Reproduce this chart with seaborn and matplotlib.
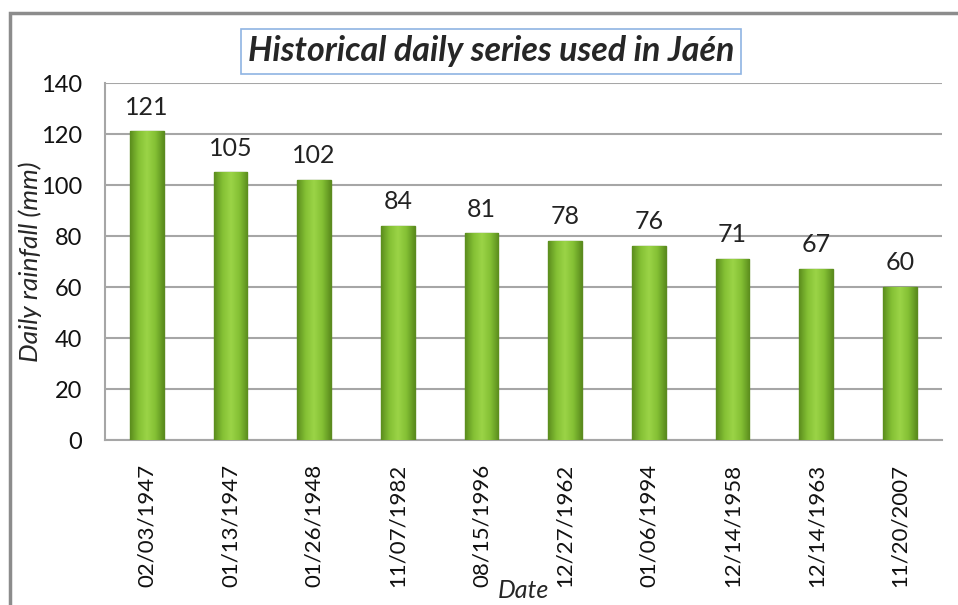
import numpy as np
import pandas as pd
import matplotlib
matplotlib.use("Agg")
import matplotlib.pyplot as plt
from matplotlib.colors import LinearSegmentedColormap
from matplotlib.patches import Rectangle
import seaborn as sns

# data
dates = ["02/03/1947", "01/13/1947", "01/26/1948", "11/07/1982", "08/15/1996",
         "12/27/1962", "01/06/1994", "12/14/1958", "12/14/1963", "11/20/2007"]
rainfall = [121, 105, 102, 84, 81, 78, 76, 71, 67, 60]
yticks = [0, 20, 40, 60, 80, 100, 120, 140]

df = pd.DataFrame({"date": dates, "rain": rainfall})

sns.set_style("white")
plt.rcParams["font.family"] = ["Lato", "DejaVu Sans"]

fig = plt.figure(figsize=(9.58, 6.05), dpi=100)
ax = fig.add_axes([0.1096, 0.2727, 0.8734, 0.5901])

sns.barplot(data=df, x="date", y="rain", ax=ax, width=0.4,
            color="#7db52f", edgecolor="#5c8a20", linewidth=1.0, zorder=3)

# cylinder-ish gradient on each bar
cmap = LinearSegmentedColormap.from_list(
    "bar", ["#5a8c1d", "#84c034", "#9bd447", "#84c034", "#5a8c1d"])
grad = np.linspace(0, 1, 256).reshape(1, -1)
for p in ax.patches:
    x0, y0 = p.get_x(), p.get_y()
    w, h = p.get_width(), p.get_height()
    im = ax.imshow(grad, cmap=cmap, aspect="auto", zorder=3.5,
                   extent=[x0, x0 + w, y0, y0 + h], interpolation="bicubic")
    im.set_clip_path(p)
    ax.text(x0 + w / 2, h + 5, f"{int(round(h))}", ha="center", va="bottom",
            fontsize=18, color="#222222")

ax.set_xlim(-0.5, len(dates) - 0.5)
ax.set_ylim(0, 140)
ax.set_yticks(yticks)
ax.yaxis.grid(True, color="#a6a6a6", linewidth=1.5, zorder=0)
ax.set_axisbelow(True)

ax.set_xticks(range(len(dates)))
ax.set_xticklabels(dates, rotation=90, fontsize=16, color="#111111")
ax.set_xticks(np.arange(-0.5, len(dates), 1.0), minor=True)
ax.tick_params(axis="x", which="major", length=0, pad=17)
ax.tick_params(axis="x", which="minor", length=7, width=1.2, color="#a6a6a6",
               direction="out")
ax.tick_params(axis="y", length=6.5, width=1.2, color="#a6a6a6", direction="out",
               labelsize=17, labelcolor="#111111", pad=10)

for s in ["top", "right"]:
    ax.spines[s].set_visible(False)
for s in ["left", "bottom"]:
    ax.spines[s].set_color("#a6a6a6")
    ax.spines[s].set_linewidth(1.5)

ax.set_ylabel("Daily rainfall (mm)", fontsize=19, style="italic", labelpad=-1)
ax.set_xlabel("Date", fontsize=18, style="italic", labelpad=-6)

fig.text(0.5125, 0.915, "Historical daily series used in Jaén", ha="center",
         va="center", fontsize=24.5, fontweight="bold", style="italic",
         bbox=dict(boxstyle="square,pad=0.2", facecolor="white",
                   edgecolor="#8fb4e3", linewidth=1.2))

# outer chart frame
fig.patches.append(Rectangle((10 / 958, -0.1), 1.2, 1.1 - 14 / 605 + 0.001,
                             transform=fig.transFigure, fill=False,
                             edgecolor="#8c8c8c", linewidth=2.5))

fig.savefig("out.png", dpi=100)
